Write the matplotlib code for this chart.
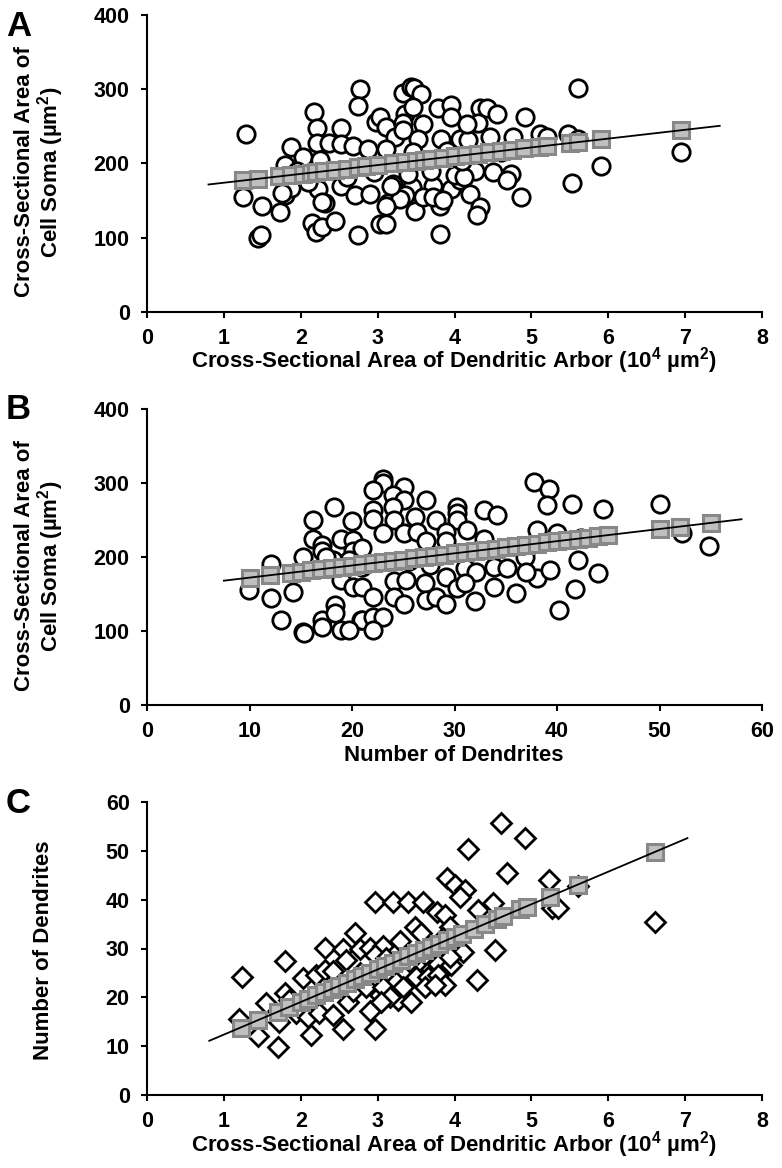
import numpy as np
import matplotlib
matplotlib.use('Agg')
import matplotlib.pyplot as plt

plt.rcParams['font.family'] = ['Liberation Sans', 'DejaVu Sans']
plt.rcParams['font.weight'] = 'bold'
plt.rcParams['mathtext.fontset'] = 'custom'
plt.rcParams['mathtext.rm'] = 'Liberation Sans:bold'
plt.rcParams['mathtext.bf'] = 'Liberation Sans:bold'
plt.rcParams['mathtext.default'] = 'rm'

# Panel A: soma area vs arbor area (x in 10^4 um^2, y in um^2)
a_x = [1.29, 1.25, 1.50, 1.73, 1.44, 1.48, 1.87, 1.80, 2.03, 1.80, 1.87, 1.76, 2.17, 2.21, 2.21,
       2.25, 2.23, 2.31, 2.27, 2.14, 2.20, 2.27, 2.44, 2.37, 2.53, 2.53, 2.53, 2.68, 2.87, 2.77,
       2.74, 2.70, 2.75, 2.90, 2.98, 3.03, 3.11, 3.03, 3.11, 3.13, 3.20, 3.23, 3.33, 3.43, 3.47,
       3.57, 3.35, 3.46, 3.33, 3.59, 3.53, 3.45, 3.35, 3.29, 3.48, 3.79, 3.96, 3.96, 4.33, 4.42,
       4.55, 4.31, 4.92, 3.83, 4.07, 4.18, 4.46, 4.76, 5.11, 3.11, 3.46, 4.27, 4.50, 4.74, 4.68,
       3.18, 3.72, 3.96, 4.07, 4.20, 3.11, 3.81, 4.33, 4.29, 4.87, 3.81, 3.59, 3.72, 5.60, 5.20,
       5.48, 5.61, 5.90, 5.53, 6.95, 3.85, 4.16, 3.70, 4.00, 4.13, 3.33, 2.60, 2.95, 3.40, 3.90,
       4.10, 2.10, 1.95, 4.60]
a_y = [240, 154, 143, 135, 100, 103, 222, 198, 209, 157, 167, 160, 269, 248, 227,
       205, 166, 146, 148, 120, 107, 114, 122, 227, 248, 226, 169, 223, 220, 300,
       277, 157, 104, 159, 256, 263, 249, 118, 118, 146, 172, 236, 295, 303, 301,
       294, 267, 276, 254, 253, 233, 168, 157, 152, 136, 274, 278, 263, 274, 274,
       267, 254, 263, 233, 233, 231, 235, 235, 240, 220, 215, 190, 188, 186, 177,
       170, 170, 166, 177, 159, 143, 143, 141, 130, 154, 105, 154, 154, 302, 236,
       240, 233, 197, 173, 215, 150, 253, 190, 184, 181, 245, 182, 188, 186, 216,
       203, 175, 190, 215]
a_fit_x = [1.25, 1.45, 1.72, 1.87, 2.03, 2.13, 2.2, 2.3, 2.45, 2.6, 2.75, 2.85, 3.0, 3.2, 3.35, 3.5,
           3.6, 3.7, 3.85, 4.0, 4.15, 4.3, 4.45, 4.6, 4.75, 4.9, 5.1, 5.2, 5.5, 5.6, 5.9, 6.95]
a_fit_y = [176.9, 179.3, 182.5, 184.3, 186.2, 187.3, 188.2, 189.4, 191.2, 192.9, 194.7, 195.9,
           197.7, 200.1, 201.9, 203.7, 204.8, 206.0, 207.8, 209.6, 211.4, 213.2, 215.0, 216.7,
           218.5, 220.3, 222.7, 223.9, 227.5, 228.6, 232.2, 244.7]
a_line_x = [0.8, 7.45]
a_line_y = [171.5, 250.6]

# Panel B: soma area vs number of dendrites
b_x = [9.97, 12.1, 12.1, 13.1, 14.2, 15.2, 15.2, 15.3, 16.2, 16.2, 17.1, 17.1, 18.2, 17.1, 17.1,
       18.3, 18.3, 18.9, 18.9, 20.0, 20.1, 20.1, 18.9, 20.1, 20.9, 18.1, 17.5, 23.0, 23.0, 22.0,
       25.1, 24.0, 25.1, 27.2, 22.0, 22.0, 24.0, 24.1, 26.1, 28.2, 30.2, 30.2, 30.2, 31.2, 29.2,
       32.9, 34.1, 23.0, 25.1, 26.3, 21.0, 27.2, 29.2, 32.9, 36.7, 36.9, 19.7, 21.0, 25.6, 27.6,
       29.2, 31.0, 32.1, 33.9, 35.1, 21.0, 22.0, 24.1, 24.1, 25.3, 25.1, 27.1, 27.2, 28.2, 29.2,
       30.2, 31.0, 32.0, 33.9, 36.0, 21.0, 22.0, 23.0, 22.0, 19.7, 37.8, 39.2, 39.0, 41.5, 44.5,
       50.0, 52.2, 54.8, 38.0, 40.0, 42.3, 38.0, 39.3, 42.0, 44.0, 41.8, 40.2, 37.0]
b_y = [155, 191, 144, 115, 153, 200, 99, 97, 250, 225, 216, 208, 268, 115, 106,
       135, 124, 101, 225, 248, 223, 208, 169, 160, 115, 196, 200, 306, 300, 291,
       295, 284, 277, 277, 264, 252, 268, 250, 254, 250, 268, 259, 250, 236, 234,
       264, 257, 232, 232, 234, 212, 221, 221, 225, 209, 200, 196, 187, 194, 189,
       173, 185, 180, 187, 185, 160, 146, 168, 146, 169, 137, 165, 142, 146, 137,
       158, 165, 140, 160, 151, 115, 119, 119, 101, 101, 302, 292, 270, 271, 265,
       271, 233, 215, 236, 232, 226, 171, 182, 196, 178, 157, 129, 180]
b_fit_x = [10, 12, 14, 15, 16, 17, 18, 19, 20, 21, 22, 23, 24, 25, 26, 27, 28, 29, 30, 31, 32,
           33, 34, 35, 36, 37, 38, 39, 40, 41, 42, 43, 44, 45, 50, 52, 55]
b_fit_y = [172.0, 175.3, 178.6, 180.2, 181.8, 183.5, 185.1, 186.8, 188.4, 190.0, 191.7, 193.3,
           195.0, 196.6, 198.2, 199.9, 201.5, 203.2, 204.8, 206.4, 208.1, 209.7, 211.4, 213.0,
           214.6, 216.3, 217.9, 219.6, 221.2, 222.8, 224.5, 226.1, 227.8, 229.4, 237.6, 240.9,
           245.8]
b_line_x = [7.5, 58]
b_line_y = [168, 251]

# Panel C: number of dendrites vs arbor area
c_x = [1.23, 1.79, 1.20, 1.45, 1.71, 1.72, 1.79, 2.13, 2.55, 2.31, 2.55, 2.70, 2.59, 2.03, 2.20,
       2.31, 2.42, 1.94, 2.09, 2.24, 2.42, 2.61, 1.85, 1.55, 4.60, 4.92, 4.18, 4.68, 3.90, 4.00,
       4.14, 4.07, 2.96, 3.20, 3.39, 3.59, 3.77, 3.87, 4.31, 4.50, 2.77, 3.48, 3.57, 2.90, 3.07,
       3.29, 3.94, 3.85, 4.53, 4.11, 4.29, 2.77, 2.96, 3.11, 3.31, 3.46, 3.57, 3.70, 3.79, 3.96,
       3.94, 2.68, 2.85, 3.03, 3.24, 3.07, 3.26, 3.44, 3.33, 3.50, 3.66, 3.79, 3.87, 3.61, 3.74,
       2.90, 2.96, 3.16, 3.05, 5.23, 5.27, 5.35, 5.61, 6.61]
c_y = [24.2, 27.5, 15.6, 12.1, 9.9, 15.0, 20.8, 12.3, 13.5, 30.1, 29.8, 33.2, 27.7, 23.9, 24.6,
       25.6, 25.3, 16.7, 16.0, 16.7, 16.4, 19.1, 19.5, 18.8, 55.8, 52.6, 50.4, 45.5, 44.4, 43.0,
       42.0, 40.6, 39.6, 39.6, 39.6, 39.6, 37.5, 36.9, 37.9, 39.3, 29.8, 34.5, 33.2, 30.1, 30.5,
       31.5, 34.5, 32.1, 29.7, 29.3, 23.5, 25.0, 28.6, 28.0, 27.7, 26.6, 25.6, 25.9, 26.9, 26.6,
       28.3, 21.2, 22.2, 20.5, 23.2, 22.2, 19.5, 19.1, 22.2, 24.2, 24.2, 24.6, 22.5, 22.2, 22.5,
       17.2, 13.5, 20.1, 19.1, 44.1, 38.3, 38.3, 42.7, 35.5]
c_fit_x = [1.22, 1.45, 1.7, 1.85, 2.0, 2.1, 2.2, 2.3, 2.4, 2.5, 2.6, 2.7, 2.8, 2.9, 3.0, 3.1, 3.2,
           3.3, 3.4, 3.5, 3.6, 3.7, 3.8, 3.9, 4.0, 4.1, 4.25, 4.4, 4.55, 4.63, 4.85, 4.94, 5.24,
           5.61, 6.61]
c_fit_y = [13.8, 15.4, 17.0, 18.0, 19.0, 19.7, 20.4, 21.0, 21.7, 22.4, 23.0, 23.7, 24.4, 25.0,
           25.7, 26.4, 27.0, 27.7, 28.4, 29.0, 29.7, 30.4, 31.0, 31.7, 32.4, 33.0, 34.0, 35.0,
           36.0, 36.6, 38.0, 38.6, 40.6, 43.1, 49.8]
c_line_x = [0.81, 7.03]
c_line_y = [11.1, 52.6]

W, H = 782, 1168
TICK_FS = 15.5
LAB_FS = 16
fig = plt.figure(figsize=(W / 100, H / 100), dpi=100)


def px_axes(left, top, right, bottom):
    return fig.add_axes([left / W, 1 - bottom / H, (right - left) / W, (bottom - top) / H])


def style(ax, xlim, xticks, ylim, yticks):
    ax.set_xlim(*xlim)
    ax.set_ylim(*ylim)
    ax.set_xticks(xticks)
    ax.set_yticks(yticks)
    for s in ['top', 'right']:
        ax.spines[s].set_visible(False)
    for s in ['left', 'bottom']:
        ax.spines[s].set_linewidth(1.5)
    ax.tick_params(axis='both', direction='out', length=4.5, width=1.5, labelsize=TICK_FS)
    ax.tick_params(axis='x', pad=7)
    ax.tick_params(axis='y', pad=8)
    for lab in ax.get_xticklabels() + ax.get_yticklabels():
        lab.set_fontweight('bold')


def draw(ax, x, y, fx, fy, lx, ly, marker, ms):
    ax.plot(x, y, linestyle='none', marker=marker, ms=ms, mfc='white', mec='black', mew=2.0, zorder=2)
    ax.plot(fx, fy, linestyle='none', marker='s', ms=11.5, mfc='#c0c0c0', mec='#888888', mew=2.2, zorder=3)
    ax.plot(lx, ly, color='black', lw=1.3, zorder=4)


axA = px_axes(147, 15, 762, 311.7)
draw(axA, a_x, a_y, a_fit_x, a_fit_y, a_line_x, a_line_y, 'o', 12.5)
style(axA, (0, 8), range(0, 9), (0, 400), range(0, 401, 100))

axB = px_axes(147, 409, 762, 705)
draw(axB, b_x, b_y, b_fit_x, b_fit_y, b_line_x, b_line_y, 'o', 12.5)
style(axB, (0, 60), range(0, 61, 10), (0, 400), range(0, 401, 100))

axC = px_axes(147, 802, 762, 1095)
draw(axC, c_x, c_y, c_fit_x, c_fit_y, c_line_x, c_line_y, 'D', 10)
style(axC, (0, 8), range(0, 9), (0, 60), range(0, 61, 10))


def ftext(x, y, s, **kw):
    fig.text(x / W, 1 - y / H, s, fontweight='bold', **kw)


arbor = 'Cross-Sectional Area of Dendritic Arbor (10$^{4}$ µm$^{2}$)'
soma = 'Cross-Sectional Area of\nCell Soma (µm$^{2}$)'

ftext(454, 368, arbor, fontsize=LAB_FS, ha='center', va='baseline')
ftext(454, 761, 'Number of Dendrites', fontsize=LAB_FS, ha='center', va='baseline')
ftext(454, 1152, arbor, fontsize=LAB_FS, ha='center', va='baseline')

ftext(40, 172, soma, fontsize=16, ha='center', va='center', rotation=90, linespacing=1.0)
ftext(40, 566, soma, fontsize=16, ha='center', va='center', rotation=90, linespacing=1.0)
ftext(44, 950, 'Number of Dendrites', fontsize=16, ha='center', va='center', rotation=90)

ftext(6, 10, 'A', fontsize=25, ha='left', va='top')
ftext(6, 393, 'B', fontsize=25, ha='left', va='top')
ftext(6, 787, 'C', fontsize=25, ha='left', va='top')

fig.savefig('out.png', dpi=100)
